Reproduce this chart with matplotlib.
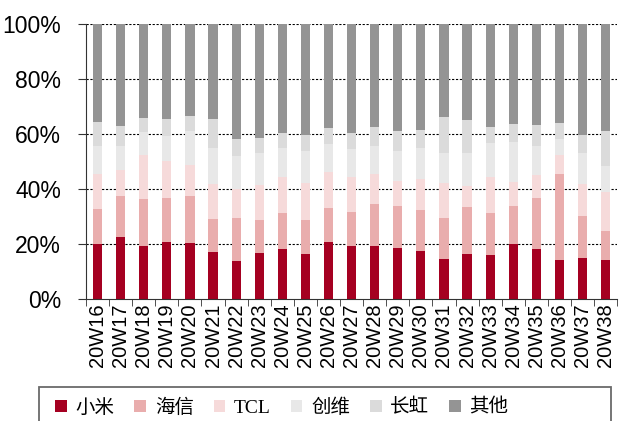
import numpy as np
import matplotlib
matplotlib.use("Agg")
import matplotlib.pyplot as plt
from matplotlib.patches import Rectangle
from matplotlib.ticker import PercentFormatter

weeks = ["20W%d" % w for w in range(16, 39)]

# weekly share (%) per brand
xiaomi = [19.9, 22.7, 19.3, 20.8, 20.4, 16.9, 13.8, 16.6, 18.1, 16.3, 20.6, 19.4,
          19.2, 18.4, 17.5, 14.6, 16.5, 15.9, 19.9, 18.0, 14.0, 14.9, 14.3]
hisense = [12.9, 14.9, 17.0, 16.0, 17.1, 12.2, 15.8, 12.0, 13.1, 12.5, 12.4, 12.2,
           15.3, 15.3, 14.8, 14.8, 16.9, 15.5, 14.0, 18.8, 31.6, 15.4, 10.5]
tcl = [12.7, 9.4, 16.0, 13.3, 11.2, 12.8, 10.2, 12.7, 13.1, 13.4, 13.1, 12.7,
       10.9, 9.1, 11.3, 12.7, 7.7, 12.9, 8.8, 8.2, 6.7, 11.6, 14.0]
skyworth = [10.2, 8.7, 8.3, 9.2, 12.3, 13.1, 12.3, 11.9, 10.7, 11.6, 10.1, 10.1,
            10.4, 11.0, 11.3, 10.9, 11.9, 12.3, 14.3, 10.6, 5.8, 11.3, 9.6]
changhong = [8.6, 7.3, 5.1, 6.0, 5.4, 10.4, 6.2, 5.2, 5.2, 5.9, 5.9, 6.0,
             6.7, 7.1, 6.5, 13.1, 11.9, 5.9, 6.7, 7.6, 5.9, 6.3, 12.8]
others = [35.7, 37.0, 34.3, 34.7, 33.6, 34.6, 41.7, 41.6, 39.8, 40.3, 37.9, 39.6,
          37.5, 39.1, 38.6, 33.9, 35.1, 37.5, 36.3, 36.8, 36.0, 40.5, 38.8]

series = [("小米", xiaomi, "#A50021"),
          ("海信", hisense, "#E9ADAD"),
          ("TCL", tcl, "#F6DADA"),
          ("创维", skyworth, "#E8E8E8"),
          ("长虹", changhong, "#DBDBDB"),
          ("其他", others, "#949494")]

fig = plt.figure(figsize=(6.19, 4.21), dpi=100)
ax = fig.add_axes([0.139, 0.29, 0.858, 0.653])

x = np.arange(len(weeks))
bottom = np.zeros(len(weeks))
for name, vals, color in series:
    vals = np.array(vals)
    ax.bar(x, vals, width=0.4, bottom=bottom, color=color, label=name, zorder=2)
    bottom += vals

ax.set_xlim(-0.5, len(weeks) - 0.5)
ax.set_ylim(0, 100)
ax.yaxis.set_major_formatter(PercentFormatter(decimals=0))
ax.set_yticks(range(0, 101, 20))
for y in range(20, 101, 20):
    ax.axhline(y, color="black", lw=0.8, ls=(0, (2, 1.5)), zorder=1)

ax.set_xticks(x)
ax.set_xticklabels(weeks, rotation=90, fontsize=14.5, family="Liberation Sans")
ax.set_xticks(np.arange(-0.5, len(weeks), 1), minor=True)
ax.tick_params(axis="x", which="major", length=0, pad=3)
ax.tick_params(axis="x", which="minor", length=5, direction="out", color="#333333")
ax.tick_params(axis="y", length=6, direction="out", color="#333333", pad=12)
for lab in ax.get_yticklabels():
    lab.set_fontsize(16.5)
    lab.set_family("Liberation Sans")

for s in ["top", "right"]:
    ax.spines[s].set_visible(False)
ax.spines["left"].set_color("#333333")
ax.spines["bottom"].set_color("#333333")

# legend frame runs off the bottom of the picture
fig.patches.append(Rectangle((39 / 619, -0.05), (611 - 39) / 619, 0.05 + (421 - 387) / 421,
                             transform=fig.transFigure, fill=False,
                             edgecolor="#6a6a6a", lw=1.3))
fig.legend(loc="center left", bbox_to_anchor=(0.089, 0.032), ncol=6,
           frameon=False, prop={"family": ["Liberation Serif", "Noto Sans CJK SC"], "size": 14},
           handlelength=0.6, handleheight=0.6, handletextpad=0.45,
           columnspacing=1.02, borderpad=0, borderaxespad=0)

fig.savefig("out.png", dpi=100)
